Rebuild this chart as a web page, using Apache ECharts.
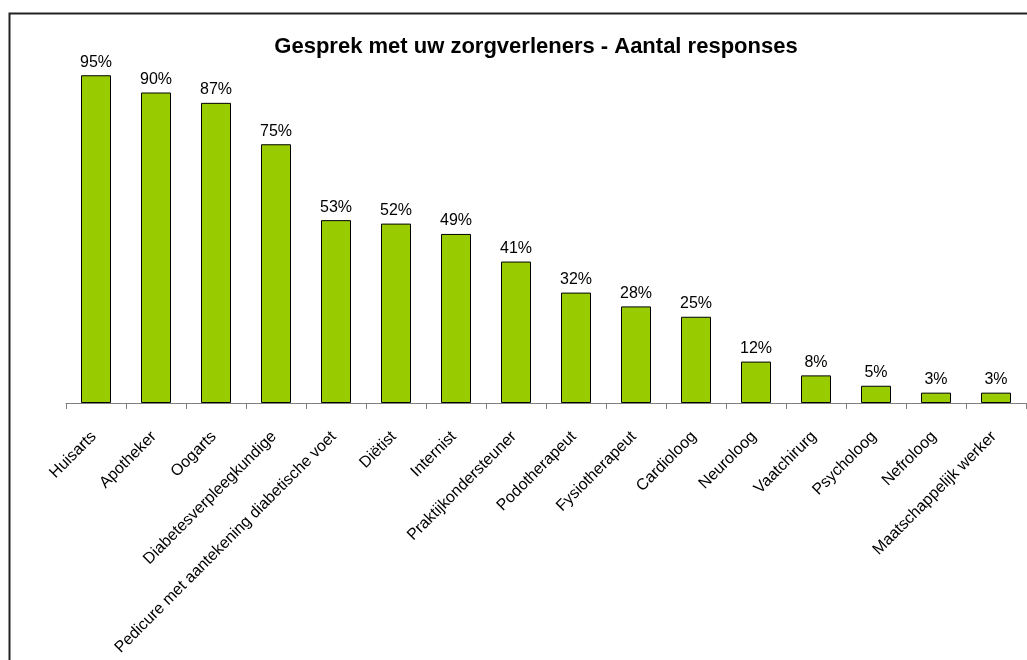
<!DOCTYPE html>
<html>
<head>
<meta charset="utf-8">
<script src="https://cdn.jsdelivr.net/npm/echarts@6/dist/echarts.min.js"></script>
<style>
html,body{margin:0;padding:0;background:#fff;}
#c{width:1027px;height:660px;}
</style>
</head>
<body>
<div id="c"></div>
<script>
const categories = ["Huisarts","Apotheker","Oogarts","Diabetesverpleegkundige","Pedicure met aantekening diabetische voet","Diëtist","Internist","Praktijkondersteuner","Podotherapeut","Fysiotherapeut","Cardioloog","Neuroloog","Vaatchirurg","Psycholoog","Nefroloog","Maatschappelijk werker"];
const values = [95,90,87,75,53,52,49,41,32,28,25,12,8,5,3,3];
const titleText = "Gesprek met uw zorgverleners - Aantal responses";

const chart = echarts.init(document.getElementById('c'), null, {renderer:'canvas'});
chart.setOption({
  animation:false,
  backgroundColor:'#fff',
  graphic:[{type:'rect',shape:{x:9.5,y:13.5,width:1100,height:700},style:{fill:'none',stroke:'#222',lineWidth:2},z:100}],
  title:{text:titleText,left:531,textAlign:'center',top:31,textStyle:{fontFamily:'Liberation Sans, Arial',fontWeight:'bold',fontSize:22,color:'#000'}},
  grid:{left:66,right:1,top:58,bottom:257,containLabel:false},
  xAxis:{type:'category',data:categories,
    axisLine:{lineStyle:{color:'#808080',width:1}},
    axisTick:{show:true,length:6,lineStyle:{color:'#808080'}},
    axisLabel:{interval:0,rotate:45,fontFamily:'Liberation Sans, Arial',fontSize:16,color:'#000',margin:29,padding:[0,3,0,0]}},
  yAxis:{type:'value',min:0,max:100,show:false,splitLine:{show:false}},
  series:[{type:'bar',data:values,barWidth:30,
    itemStyle:{color:'#99CC00',borderColor:'#000',borderWidth:1},
    label:{show:true,position:'top',formatter:'{c}%',fontFamily:'Liberation Sans, Arial',fontSize:16,color:'#000',distance:5}}]
});
</script>
</body>
</html>
